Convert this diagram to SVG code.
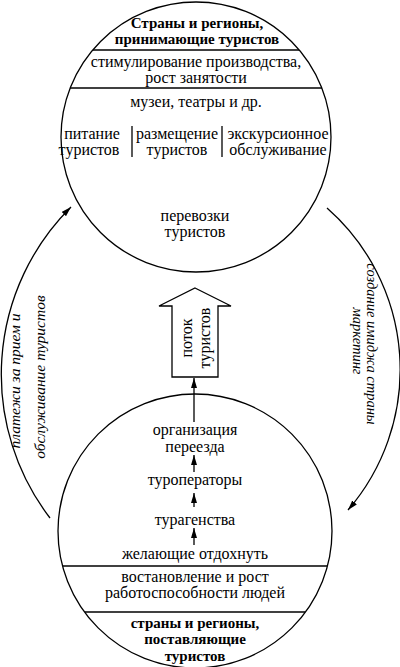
<svg xmlns="http://www.w3.org/2000/svg" width="400" height="667" viewBox="0 0 400 667">
<style>
text{font-family:'Liberation Serif','Times New Roman',serif;font-size:16px;fill:#000;text-anchor:middle}
.b{font-weight:bold;font-size:15px}
.i{font-style:italic;font-size:15.5px}
.r{font-size:14.5px}
.c{fill:none;stroke:#000;stroke-width:1.3}
.l{stroke:#000;stroke-width:1.3;fill:none}
</style>
<defs>
<marker id="ah" viewBox="0 0 10 6" refX="10" refY="3" markerWidth="10" markerHeight="6" markerUnits="userSpaceOnUse" orient="auto">
<path d="M0,0 L10,3 L0,6 Z" fill="#000"/>
</marker>
</defs>
<g id="top-circle">
<circle class="c" cx="196" cy="137" r="135"/>
<line class="l" x1="93" y1="50" x2="299" y2="50"/>
<line class="l" x1="70" y1="88" x2="322" y2="88"/>
<text class="b" x="197" y="28">Страны и регионы,</text>
<text class="b" x="197" y="44">принимающие туристов</text>
<text x="196" y="67">стимулирование производства,</text>
<text x="196" y="83">рост занятости</text>
<text x="196" y="107">музеи, театры и др.</text>
<text x="92" y="139">питание</text>
<text x="89" y="155">туристов</text>
<line class="l" x1="132" y1="126" x2="132" y2="157"/>
<text x="177" y="139">размещение</text>
<text x="177" y="155">туристов</text>
<line class="l" x1="222" y1="126" x2="222" y2="157"/>
<text x="278" y="139">экскурсионное</text>
<text x="278" y="155">обслуживание</text>
<text x="195" y="221">перевозки</text>
<text x="195" y="237">туристов</text>
</g>
<g id="flow-arrow">
<polygon points="195,288 231,306 218,306 218,377 172,377 172,306 159,306" fill="#fff" stroke="#000" stroke-width="1.3"/>
<text transform="translate(192,338) rotate(-90)">поток</text>
<text transform="translate(210,338) rotate(-90)">туристов</text>
</g>
<g id="bottom-circle">
<circle class="c" cx="195" cy="531" r="137"/>
<line class="l" x1="63" y1="566" x2="327" y2="566"/>
<line class="l" x1="85" y1="612" x2="305" y2="612"/>
<text x="195" y="435">организация</text>
<text x="195" y="452">переезда</text>
<text x="195" y="485">туроператоры</text>
<text x="195" y="525">турагенства</text>
<text x="195" y="559">желающие отдохнуть</text>
<text x="195" y="582">востановление и рост</text>
<text x="195" y="598">работоспособности людей</text>
<text class="b" x="195" y="628">страны и регионы,</text>
<text class="b" x="195" y="644">поставляющие</text>
<text class="b" x="195" y="661">туристов</text>
</g>
<g id="connectors">
<line class="l" x1="194" y1="422" x2="194" y2="378" marker-end="url(#ah)"/>
<line class="l" x1="194" y1="472" x2="194" y2="455" marker-end="url(#ah)"/>
<line class="l" x1="194" y1="507" x2="194" y2="493" marker-end="url(#ah)"/>
<line class="l" x1="194" y1="545" x2="194" y2="528" marker-end="url(#ah)"/>
<path class="l" d="M50,518 A236,236 0 0 1 71,207" marker-end="url(#ah)"/>
<path class="l" d="M327,208 A215,215 0 0 1 348,510" marker-end="url(#ah)"/>
</g>
<g id="labels">
<text class="i" transform="translate(20,381) rotate(-90)">платежи за прием и</text>
<text class="i" transform="translate(45,377) rotate(-90)">обслуживание туристов</text>
<text class="i r" transform="translate(367,344) rotate(90)">создание имиджа страны</text>
<text class="i r" transform="translate(353,341) rotate(90)">маркетинг</text>
</g>
</svg>
